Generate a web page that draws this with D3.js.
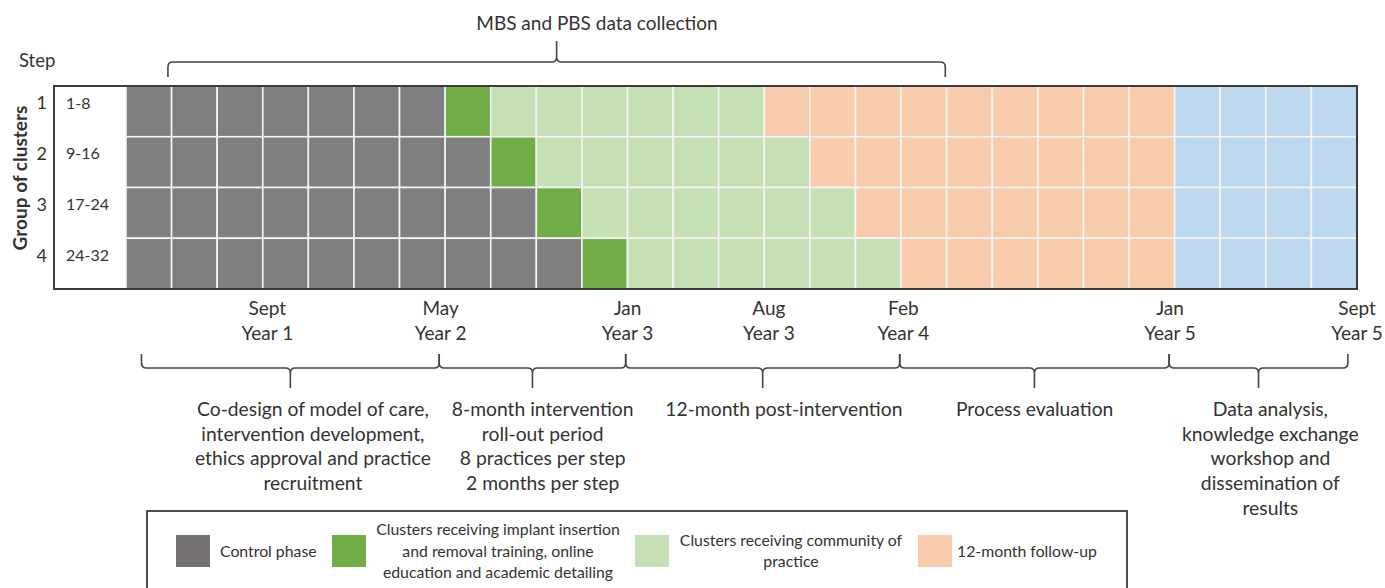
<!DOCTYPE html>
<html>
<head>
<meta charset="utf-8">
<script src="https://cdn.jsdelivr.net/npm/d3@7"></script>
<style>
  body { margin: 0; background: #fff; }
  svg text { font-family: Lato, "Open Sans", sans-serif; fill: #333; }
</style>
</head>
<body>
<div id="chart"></div>
<script>
// steps and cluster groups
const steps = ["1", "2", "3", "4"];
const clusterGroups = ["1-8", "9-16", "17-24", "24-32"];

// number of 2-month periods spent in each phase, per step
const phaseNames = ["control", "training", "community", "followup", "analysis"];
const controlPeriods = [7, 8, 9, 10];
const trainingPeriods = [1, 1, 1, 1];
const communityPeriods = [6, 6, 6, 6];
const followupPeriods = [9, 8, 7, 6];
const analysisPeriods = [4, 4, 4, 4];

// time labels under the grid (in periods from start)
const timeMonths = ["Sept", "May", "Jan", "Aug", "Feb", "Jan", "Sept"];
const timeYears = ["Year 1", "Year 2", "Year 3", "Year 3", "Year 4", "Year 5", "Year 5"];
const timeAt = [3.1, 6.9, 11, 14.1, 17.05, 22.9, 27];

// study phases shown with braces (in periods)
const braceStart = [0.34, 6.87, 10.96, 16.97, 22.88];
const braceEnd = [6.87, 10.96, 16.97, 22.88, 26.8];
const braceTextAt = [4.1, 9.14, 14.43, 19.93, 25.1];
const braceText = [
  ["Co-design of model of care,", "intervention development,", "ethics approval and practice", "recruitment"],
  ["8-month intervention", "roll-out period", "8 practices per step", "2 months per step"],
  ["12-month post-intervention"],
  ["Process evaluation"],
  ["Data analysis,", "knowledge exchange", "workshop and", "dissemination of", "results"]
];

// data collection brace on top
const collectionStart = 0.92, collectionEnd = 17.97, collectionTextAt = 10.33;
const collectionLabel = "MBS and PBS data collection";

const legendLabels = [
  ["Control phase"],
  ["Clusters receiving implant insertion", "and removal training, online", "education and academic detailing"],
  ["Clusters receiving community of", "practice"],
  ["12-month follow-up"]
];

const width = 1385, height = 588;
const nPeriods = 27;

const svg = d3.select("#chart")
  .append("svg")
    .attr("width", width)
    .attr("height", height);

const x = d3.scaleLinear().domain([0, nPeriods]).range([126, 1357]);
const y = d3.scaleBand().domain(steps).range([86, 289]);

const color = d3.scaleOrdinal()
  .domain(phaseNames)
  .range(["#7f7f7f", "#70ad47", "#c5e0b4", "#f8cbad", "#bdd7ee"]);

// build the cells, one per step and period
const periodsByPhase = [controlPeriods, trainingPeriods, communityPeriods, followupPeriods, analysisPeriods];
const cells = [];
steps.forEach((s, i) => {
  let col = 0;
  phaseNames.forEach((p, j) => {
    for (let k = 0; k < periodsByPhase[j][i]; k++) {
      cells.push({step: s, col: col, phase: p});
      col++;
    }
  });
});

svg.append("g")
  .selectAll("rect")
  .data(cells)
  .join("rect")
    .attr("x", d => x(d.col))
    .attr("y", d => y(d.step))
    .attr("width", d => x(d.col + 1) - x(d.col))
    .attr("height", y.bandwidth())
    .attr("fill", d => color(d.phase))
    .attr("stroke", "#f4f4f4")
    .attr("stroke-width", 1.6);

// outer box incl. cluster label column
svg.append("rect")
  .attr("x", 54)
  .attr("y", y.range()[0])
  .attr("width", x(nPeriods) - 54)
  .attr("height", y.range()[1] - y.range()[0])
  .attr("fill", "none")
  .attr("stroke", "#3c3c3c")
  .attr("stroke-width", 2);

// step numbers + cluster groups
svg.append("g")
  .selectAll("text")
  .data(steps)
  .join("text")
    .attr("x", 47)
    .attr("y", d => y(d) + 17)
    .attr("dy", "0.35em")
    .attr("text-anchor", "end")
    .style("font-size", "18px")
    .text(d => d);

svg.append("g")
  .selectAll("text")
  .data(clusterGroups)
  .join("text")
    .attr("x", 66)
    .attr("y", (d, i) => y(steps[i]) + 17)
    .attr("dy", "0.35em")
    .style("font-size", "16px")
    .text(d => d);

svg.append("text")
  .attr("x", 19)
  .attr("y", 61)
  .attr("dy", "0.35em")
  .style("font-size", "18.5px")
  .text("Step");

svg.append("text")
  .attr("transform", "translate(20,178) rotate(-90)")
  .attr("text-anchor", "middle")
  .attr("dy", "0.35em")
  .style("font-size", "19px")
  .style("font-weight", "bold")
  .text("Group of clusters");

// curly brace helper: ends at yEnd, line at yLine, tip at yTip
function brace(x0, x1, xm, yEnd, yLine, yTip) {
  const r = 5, s = yTip > yLine ? 1 : -1;
  return `M${x0},${yEnd} L${x0},${yLine - s * r} Q${x0},${yLine} ${x0 + r},${yLine}`
    + ` L${xm - r},${yLine} Q${xm},${yLine} ${xm},${yLine + s * r} L${xm},${yTip}`
    + ` M${xm},${yLine + s * r} Q${xm},${yLine} ${xm + r},${yLine}`
    + ` L${x1 - r},${yLine} Q${x1},${yLine} ${x1},${yLine - s * r} L${x1},${yEnd}`;
}

// top brace: data collection
svg.append("path")
  .attr("d", brace(x(collectionStart), x(collectionEnd), (x(collectionStart) + x(collectionEnd)) / 2, 77, 62, 41))
  .attr("fill", "none")
  .attr("stroke", "#444")
  .attr("stroke-width", 1.6);

svg.append("text")
  .attr("x", x(collectionTextAt))
  .attr("y", 23)
  .attr("dy", "0.35em")
  .attr("text-anchor", "middle")
  .style("font-size", "19px")
  .text(collectionLabel);

// time labels
const timeG = svg.append("g")
  .selectAll("text")
  .data(timeAt)
  .join("text")
    .attr("text-anchor", "middle")
    .style("font-size", "19px");
timeG.append("tspan")
  .attr("x", d => x(d))
  .attr("y", 308)
  .attr("dy", "0.35em")
  .text((d, i) => timeMonths[i]);
timeG.append("tspan")
  .attr("x", d => x(d))
  .attr("y", 333)
  .attr("dy", "0.35em")
  .text((d, i) => timeYears[i]);

// bottom braces
svg.append("g")
  .selectAll("path")
  .data(braceStart)
  .join("path")
    .attr("d", (d, i) => brace(x(d), x(braceEnd[i]), (x(d) + x(braceEnd[i])) / 2, 354, 368, 388))
    .attr("fill", "none")
    .attr("stroke", "#444")
    .attr("stroke-width", 1.6);

svg.append("g")
  .selectAll("text")
  .data(braceText)
  .join("text")
    .attr("text-anchor", "middle")
    .style("font-size", "19.3px")
  .selectAll("tspan")
  .data((d, i) => d.map(t => ({t: t, at: braceTextAt[i]})))
  .join("tspan")
    .attr("x", d => x(d.at))
    .attr("y", (d, k) => 409 + k * 24.8)
    .attr("dy", "0.35em")
    .text(d => d.t);

// legend
const legendColors = ["#767171", color("training"), color("community"), color("followup")];
const legendSquareX = [176, 332, 635, 918];
const legendTextX = [220, 498, 791, 957];
const legendAnchor = ["start", "middle", "middle", "start"];

svg.append("rect")
  .attr("x", 147)
  .attr("y", 511)
  .attr("width", 980)
  .attr("height", 100)
  .attr("fill", "none")
  .attr("stroke", "#222")
  .attr("stroke-width", 1.6);

const legend = svg.append("g")
  .selectAll("g")
  .data(legendLabels)
  .join("g");

legend.append("rect")
  .attr("x", (d, i) => legendSquareX[i])
  .attr("y", 535)
  .attr("width", 34)
  .attr("height", 32)
  .attr("fill", (d, i) => legendColors[i]);

legend.append("text")
  .attr("text-anchor", (d, i) => legendAnchor[i])
  .style("font-size", "15.8px")
  .selectAll("tspan")
  .data((d, i) => d.map((t, k) => ({t: t, i: i, k: k, n: d.length})))
  .join("tspan")
    .attr("x", d => legendTextX[d.i])
    .attr("y", d => 551 + (d.k - (d.n - 1) / 2) * 21.5)
    .attr("dy", "0.35em")
    .text(d => d.t);
</script>
</body>
</html>
